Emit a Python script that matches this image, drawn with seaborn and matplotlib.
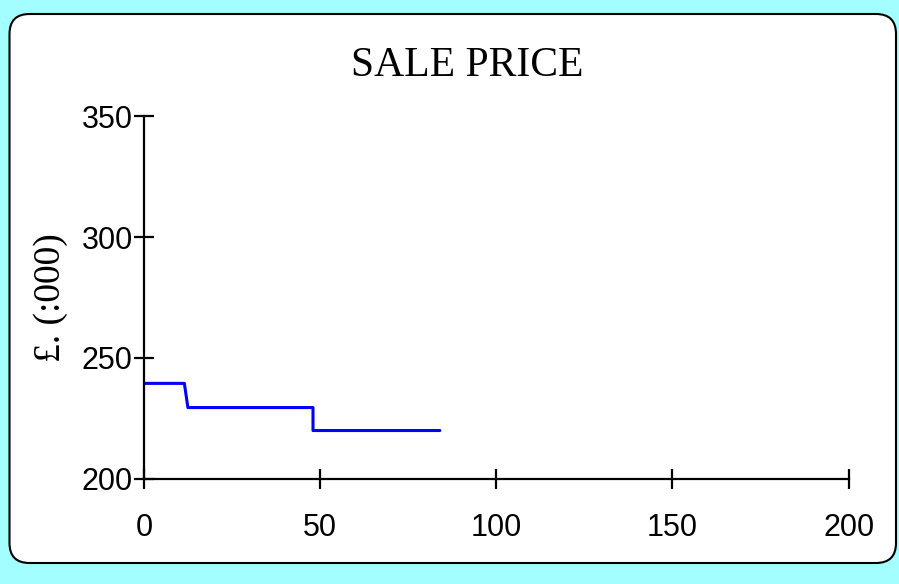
import matplotlib
matplotlib.use("Agg")
import matplotlib.pyplot as plt
import seaborn as sns
import pandas as pd
from matplotlib.patches import FancyBboxPatch

# months vs sale price (thousands)
months = [0, 11.5, 12.5, 48, 48, 84]
price = [239.5, 239.5, 229.5, 229.5, 220, 220]
x_ticks = [0, 50, 100, 150, 200]
y_ticks = [200, 250, 300, 350]

df = pd.DataFrame({"month": months, "price": price})

sns.set_style("ticks")
fig = plt.figure(figsize=(8.99, 5.84), dpi=100)
fig.patch.set_facecolor("#a3ffff")

# white rounded panel
panel = FancyBboxPatch((0.095 + 0.2, 0.21 + 0.2), 8.865 - 0.4, 5.49 - 0.4,
                       boxstyle="round,pad=0.2", transform=fig.dpi_scale_trans,
                       facecolor="white", edgecolor="black", linewidth=1.5,
                       zorder=-5)
fig.patches.append(panel)

ax = fig.add_axes([0.160, 0.180, 0.784, 0.621])
ax.set_facecolor("none")
sns.lineplot(data=df, x="month", y="price", ax=ax, color="#0000ff",
             linewidth=2.2, estimator=None, sort=False)

ax.set_xlim(0, 200)
ax.set_ylim(200, 350)
ax.set_xticks(x_ticks)
ax.set_yticks(y_ticks)
for s in ["top", "right"]:
    ax.spines[s].set_visible(False)
for s in ["left", "bottom"]:
    ax.spines[s].set_linewidth(1.6)
    ax.spines[s].set_color("black")
ax.tick_params(direction="inout", length=14, width=1.6, labelsize=22,
               colors="black")
ax.tick_params(axis="x", pad=17.5)
ax.tick_params(axis="y", pad=1)
for lbl in ax.get_xticklabels() + ax.get_yticklabels():
    lbl.set_fontfamily("Liberation Sans")

ax.set_xlabel("")
ax.set_ylabel("£. (:000)", fontfamily="Liberation Serif", fontsize=27,
              labelpad=10, color="black")
fig.text(0.52, 0.888, "SALE PRICE", ha="center", va="center",
         fontfamily="Liberation Serif", fontsize=30, color="black")

fig.savefig("out.png", dpi=100, facecolor=fig.get_facecolor())
